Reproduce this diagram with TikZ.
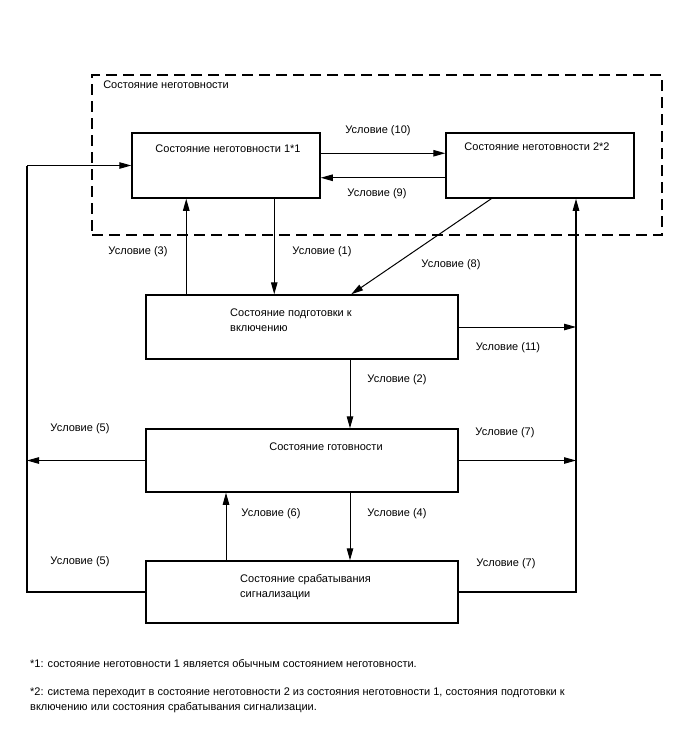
\documentclass[tikz,border=0pt]{standalone}
\usepackage{fontspec}
\setmainfont{Liberation Sans}
\usepackage{tikz}
\usetikzlibrary{
  arrows.meta,
  positioning,
  calc
}

\begin{document}
\begin{tikzpicture}[
      x=1pt, y=-1pt,
      >={Triangle[length=12pt,width=6.5pt]},
      every node/.style={font=\fontsize{11}{15}\selectfont},
      state/.style={draw, line width=1.5pt, minimum width=312pt,
                    minimum height=64pt, inner sep=0pt},
      grp/.style={draw, line width=1.8pt, dash pattern=on 11pt off 6pt,
                  minimum width=570pt, minimum height=160pt, inner sep=0pt},
      txt/.style={inner sep=0pt, align=left},
      cond/.style={inner sep=0pt},
      arr/.style={->, line width=1pt},
      wire/.style={line width=1.2pt}
  ]
      \useasboundingbox (0,0) rectangle (688,755);

      % Группа неготовности
      \node[grp] (grp) at (377,155) {};
      \node[txt, anchor=west] (grpt) at ($(grp.north west)+(12,11)$) {Состояние неготовности};

      % Состояния
      \node[state, minimum width=188pt, minimum height=65pt] (n1) at (226,165.5) {};
      \node[state, minimum width=188pt, minimum height=65pt] (n2) at (540,165.5) {};
      \node[state] (p) at (302,327) {};
      \node[state, minimum height=63pt] (r) at (302,460.5) {};
      \node[state, minimum height=62pt] (a) at (302,592) {};

      \node[txt] (n1t) at (228,149) {Состояние неготовности 1*1};
      \node[txt] (n2t) at (537,147) {Состояние неготовности 2*2};
      \node[txt, anchor=west] (pt) at (230,320) {Состояние подготовки к\\включению};
      \node[txt] (rt) at (326,447) {Состояние готовности};
      \node[txt, anchor=west] (at) at (240,587) {Состояние срабатывания\\сигнализации};

      % Боковые линии
      \coordinate (lft) at (27,592);
      \coordinate (rgt) at (576,592);

      % Переходы
      \draw[arr] ($(n1.north east)+(0,21)$) -- ($(n2.north west)+(0,21)$);
      \draw[arr] ($(n2.south west)+(0,-21)$) -- ($(n1.south east)+(0,-21)$);
      \draw[arr] ($(p.north west)+(41,0)$) -- ($(n1.south west)+(55,0)$);
      \draw[arr] ($(n1.south west)+(143,0)$) -- ($(p.north west)+(129,0)$);
      \draw[arr] ($(n2.south west)+(46,0)$) -- ($(p.north west)+(206,0)$);
      \draw[arr] (p.east) -- (p.east -| rgt);
      \draw[arr] ($(p.south)+(48,0)$) -- ($(r.north)+(48,0)$);
      \draw[arr] (r.west) -- (r.west -| lft);
      \draw[arr] (r.east) -- (r.east -| rgt);
      \draw[arr] ($(r.south)+(48,0)$) -- ($(a.north)+(48,0)$);
      \draw[arr] ($(a.north)+(-76,0)$) -- ($(r.south)+(-76,0)$);
      \draw[wire] (a.west) -- (a.west -| lft) -- (lft |- n1.west);
      \draw[arr] (lft |- n1.west) -- (n1.west);
      \draw[wire] (a.east) -- (a.east -| rgt) -- (rgt |- p.east);
      \draw[arr, line width=1.2pt] (rgt |- p.east) -- (rgt |- n2.south);

      % Условия
      \node[cond] (c10) at (378,131) {Условие (10)};
      \node[cond] (c9)  at (377,194) {Условие (9)};
      \node[cond] (c3)  at (138,252) {Условие (3)};
      \node[cond] (c1)  at (322,252) {Условие (1)};
      \node[cond] (c8)  at (451,265) {Условие (8)};
      \node[cond] (c11) at (508,348) {Условие (11)};
      \node[cond] (c2)  at (397,380) {Условие (2)};
      \node[cond] (c5a) at (80,429)  {Условие (5)};
      \node[cond] (c7a) at (505,433) {Условие (7)};
      \node[cond] (c6)  at (271,514) {Условие (6)};
      \node[cond] (c4)  at (397,514) {Условие (4)};
      \node[cond] (c5b) at (80,562)  {Условие (5)};
      \node[cond] (c7b) at (506,564) {Условие (7)};

      % Примечания
      \node[txt, anchor=west] (f1) at (30,664) {*1: состояние неготовности 1 является обычным состоянием неготовности.};
      \node[txt, anchor=north west] (f2) at (30,688) {*2: система переходит в состояние неготовности 2 из состояния неготовности 1, состояния подготовки к\\включению или состояния срабатывания сигнализации.};
  \end{tikzpicture}
\end{document}
